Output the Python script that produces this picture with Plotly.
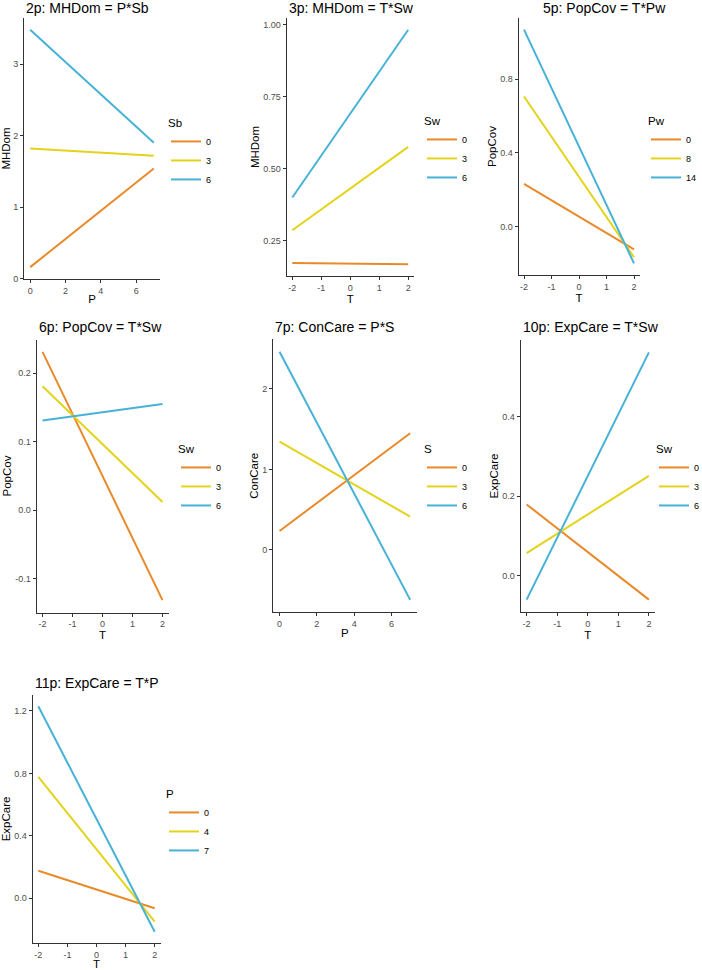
import plotly.graph_objects as go

# 2p: MHDom = P*Sb
p2_x = [0, 7]
p2_levels = ['0', '3', '6']
p2_y = [[0.16, 1.54], [1.82, 1.72], [3.48, 1.90]]
p2_xticks = ['0', '2', '4', '6']
p2_yticks = ['0', '1', '2', '3']

# 3p: MHDom = T*Sw
p3_x = [-2, -1, 2]
p3_levels = ['0', '3', '6']
p3_y = [[0.171, 0.170, 0.167], [0.285, 0.358, 0.575], [0.399, 0.545, 0.982]]
p3_xticks = ['-2', '-1', '0', '1', '2']
p3_yticks = ['0.25', '0.50', '0.75', '1.00']

# 5p: PopCov = T*Pw
p5_x = [-2, 2]
p5_levels = ['0', '8', '14']
p5_y = [[0.232, -0.123], [0.706, -0.166], [1.068, -0.199]]
p5_xticks = ['-2', '-1', '0', '1', '2']
p5_yticks = ['0.0', '0.4', '0.8']

# 6p: PopCov = T*Sw
p6_x = [-2, 2]
p6_levels = ['0', '3', '6']
p6_y = [[0.231, -0.131], [0.181, 0.012], [0.131, 0.155]]
p6_xticks = ['-2', '-1', '0', '1', '2']
p6_yticks = ['-0.1', '0.0', '0.1', '0.2']

# 7p: ConCare = P*S
p7_x = [0, 7]
p7_levels = ['0', '3', '6']
p7_y = [[0.236, 1.45], [1.345, 0.414], [2.463, -0.62]]
p7_xticks = ['0', '2', '4', '6']
p7_yticks = ['0', '1', '2']

# 10p: ExpCare = T*Sw
p10_x = [-2, 2]
p10_levels = ['0', '3', '6']
p10_y = [[0.179, -0.06], [0.057, 0.251], [-0.06, 0.561]]
p10_xticks = ['-2', '-1', '0', '1', '2']
p10_yticks = ['0.0', '0.2', '0.4']

# 11p: ExpCare = T*P
p11_x = [-2, 2]
p11_levels = ['0', '4', '7']
p11_y = [[0.177, -0.064], [0.778, -0.15], [1.23, -0.214]]
p11_xticks = ['-2', '-1', '0', '1', '2']
p11_yticks = ['0.0', '0.4', '0.8', '1.2']

W, H = 702, 970
COLORS = ['#E88A2A', '#E3D31B', '#47B2D6']
FONT = 'Liberation Sans, Arial, sans-serif'

# box = (left, right, top, bottom) of each plot area in pixels
panels = [
    dict(title='2p: MHDom = P*Sb', x=p2_x, ys=p2_y, levels=p2_levels, mod='Sb',
         xlab='P', ylab='MHDom', xt=p2_xticks, yt=p2_yticks,
         box=(24, 160, 18, 279), tpos=(24, 8), leg=(166, 112)),
    dict(title='3p: MHDom = T*Sw', x=p3_x, ys=p3_y, levels=p3_levels, mod='Sw',
         xlab='T', ylab='MHDom', xt=p3_xticks, yt=p3_yticks,
         box=(286.5, 414, 18, 276), tpos=(287, 8), leg=(422, 110)),
    dict(title='5p: PopCov = T*Pw', x=p5_x, ys=p5_y, levels=p5_levels, mod='Pw',
         xlab='T', ylab='PopCov', xt=p5_xticks, yt=p5_yticks,
         box=(518.5, 639.5, 18, 275), tpos=(541, 8), leg=(646, 110)),
    dict(title='6p: PopCov = T*Sw', x=p6_x, ys=p6_y, levels=p6_levels, mod='Sw',
         xlab='T', ylab='PopCov', xt=p6_xticks, yt=p6_yticks,
         box=(36.5, 168.5, 339.5, 612.5), tpos=(36.5, 327), leg=(176, 438)),
    dict(title='7p: ConCare = P*S', x=p7_x, ys=p7_y, levels=p7_levels, mod='S',
         xlab='P', ylab='ConCare', xt=p7_xticks, yt=p7_yticks,
         box=(273, 416.7, 339.3, 612.3), tpos=(273, 327), leg=(422, 438)),
    dict(title='10p: ExpCare = T*Sw', x=p10_x, ys=p10_y, levels=p10_levels, mod='Sw',
         xlab='T', ylab='ExpCare', xt=p10_xticks, yt=p10_yticks,
         box=(520.5, 655, 340, 612), tpos=(521, 327), leg=(654, 438)),
    dict(title='11p: ExpCare = T*P', x=p11_x, ys=p11_y, levels=p11_levels, mod='P',
         xlab='T', ylab='ExpCare', xt=p11_xticks, yt=p11_yticks,
         box=(32.5, 160.5, 695, 943), tpos=(32.5, 683), leg=(164, 783)),
]


def fx(px):
    return px / W


def fy(py):
    return 1 - py / H


fig = go.Figure()
layout = {}
annotations = []

for i, p in enumerate(panels):
    s = '' if i == 0 else str(i + 1)
    leg = 'legend' + s
    for k, lvl in enumerate(p['levels']):
        fig.add_trace(go.Scatter(
            x=p['x'], y=p['ys'][k], mode='lines', name=lvl,
            line=dict(color=COLORS[k], width=2),
            xaxis='x' + s, yaxis='y' + s, legend=leg,
        ))

    x0, x1, y0, y1 = p['box']
    xmin, xmax = min(p['x']), max(p['x'])
    xpad = (xmax - xmin) * 0.05
    ally = [v for row in p['ys'] for v in row]
    ymin, ymax = min(ally), max(ally)
    ypad = (ymax - ymin) * 0.05

    axis_common = dict(
        showline=True, linecolor='#333333', linewidth=1,
        ticks='outside', ticklen=3, tickcolor='#333333', tickwidth=1,
        showgrid=False, zeroline=False,
        tickfont=dict(size=9, color='#4D4D4D', family=FONT),
    )
    layout['xaxis' + s] = dict(
        axis_common,
        domain=[fx(x0), fx(x1)], anchor='y' + s,
        range=[xmin - xpad, xmax + xpad],
        tickmode='array', tickvals=[float(t) for t in p['xt']], ticktext=p['xt'],
        title=dict(text=p['xlab'], font=dict(size=11.5, color='black', family=FONT), standoff=0),
    )
    layout['yaxis' + s] = dict(
        axis_common,
        domain=[fy(y1), fy(y0)], anchor='x' + s,
        range=[ymin - ypad, ymax + ypad],
        tickmode='array', tickvals=[float(t) for t in p['yt']], ticktext=p['yt'],
        title=dict(text=p['ylab'], font=dict(size=11.5, color='black', family=FONT), standoff=1),
    )
    layout[leg] = dict(
        x=fx(p['leg'][0]), y=fy(p['leg'][1]), xanchor='left', yanchor='top',
        title=dict(text=p['mod'], font=dict(size=11.5, color='black', family=FONT)),
        font=dict(size=9, color='black', family=FONT),
        bgcolor='rgba(0,0,0,0)', itemwidth=30, tracegroupgap=0,
    )
    annotations.append(dict(
        text=p['title'], xref='paper', yref='paper',
        x=fx(p['tpos'][0]), y=fy(p['tpos'][1]), xanchor='left', yanchor='middle',
        showarrow=False, font=dict(size=14, color='black', family=FONT),
    ))

fig.update_layout(
    width=W, height=H,
    margin=dict(l=0, r=0, t=0, b=0, autoexpand=False),
    paper_bgcolor='white', plot_bgcolor='white',
    showlegend=True,
    annotations=annotations,
    **layout,
)

fig.write_html("out.html", config={'displayModeBar': False},
               post_script="document.body.style.margin='0';")
